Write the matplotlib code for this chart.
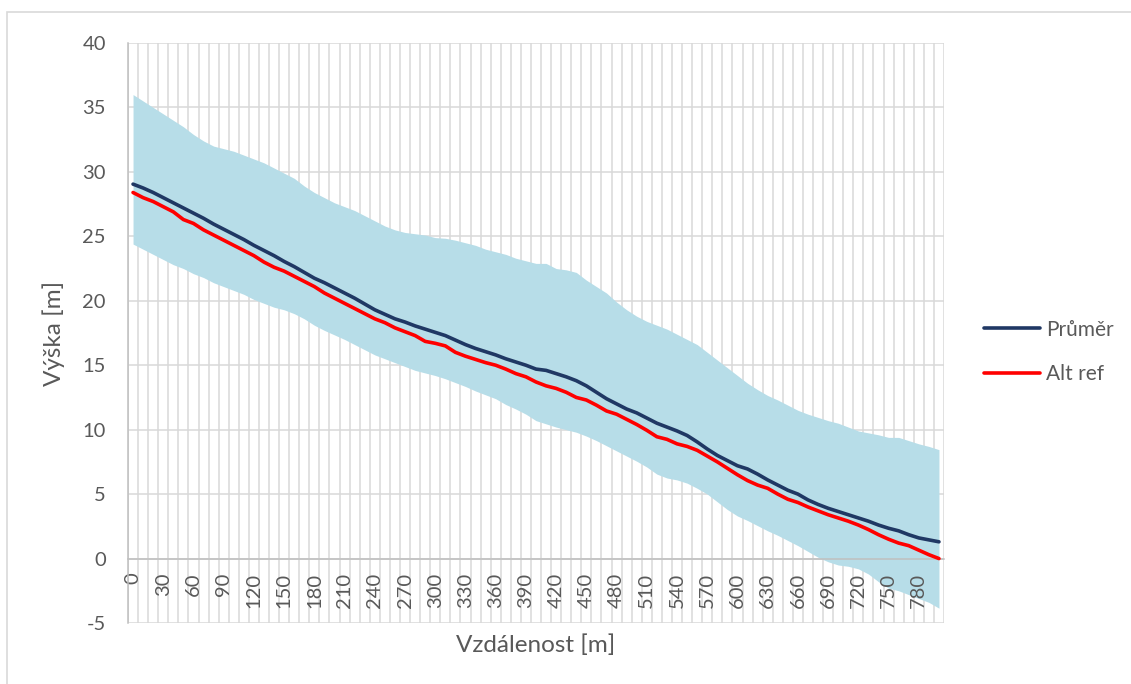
import numpy as np
import matplotlib
matplotlib.use("Agg")
import matplotlib.pyplot as plt
from matplotlib.patches import Rectangle

plt.rcParams['font.family'] = ['Lato', 'DejaVu Sans']
plt.rcParams['axes.unicode_minus'] = False

# distance categories [m]
distance = list(range(0, 801, 10))

upper = [36.0, 35.5, 35.0, 34.5, 34.0, 33.5, 32.9, 32.4, 32.0, 31.8,
         31.6, 31.3, 31.0, 30.7, 30.3, 29.9, 29.5, 28.9, 28.4, 28.0, 27.6,
         27.3, 27.0, 26.6, 26.2, 25.8, 25.5, 25.3, 25.2, 25.1, 24.9,
         24.85, 24.7, 24.5, 24.3, 24.0, 23.8, 23.6, 23.3, 23.1, 22.9,
         22.9, 22.5, 22.4, 22.2, 21.6, 21.1, 20.6, 19.9, 19.3, 18.8,
         18.4, 18.1, 17.8, 17.4, 17.0, 16.6, 16.0, 15.4, 14.8, 14.2,
         13.6, 13.1, 12.65, 12.3, 11.9, 11.5, 11.2, 10.95, 10.7, 10.5,
         10.2, 9.9, 9.75, 9.6, 9.4, 9.4, 9.15, 8.9, 8.7, 8.45]

lower = [24.4, 24.0, 23.6, 23.2, 22.8, 22.5, 22.1, 21.8, 21.4, 21.1,
         20.8, 20.5, 20.1, 19.8, 19.5, 19.3, 19.0, 18.6, 18.1, 17.7, 17.35,
         17.0, 16.6, 16.2, 15.8, 15.5, 15.2, 14.9, 14.6, 14.4, 14.2,
         13.95, 13.65, 13.35, 13.0, 12.7, 12.4, 11.95, 11.6, 11.2, 10.7,
         10.45, 10.2, 10.0, 9.8, 9.5, 9.15, 8.75, 8.35, 7.95, 7.55,
         7.1, 6.55, 6.25, 6.1, 5.85, 5.45, 5.0, 4.4, 3.8, 3.3,
         2.95, 2.55, 2.15, 1.8, 1.4, 1.0, 0.55, 0.1, -0.25, -0.5,
         -0.6, -0.8, -1.2, -1.8, -2.3, -2.5, -2.8, -3.1, -3.4, -3.85]

prumer = [29.05, 28.75, 28.4, 28.0, 27.6, 27.2, 26.8, 26.4, 25.95, 25.55,
          25.15, 24.75, 24.3, 23.9, 23.5, 23.05, 22.65, 22.2, 21.75, 21.4, 21.0,
          20.6, 20.2, 19.75, 19.3, 18.95, 18.6, 18.35, 18.05, 17.8, 17.55,
          17.3, 16.95, 16.6, 16.3, 16.05, 15.8, 15.5, 15.25, 15.0, 14.7,
          14.6, 14.35, 14.1, 13.8, 13.4, 12.9, 12.4, 12.0, 11.6, 11.3,
          10.9, 10.5, 10.2, 9.9, 9.55, 9.05, 8.5, 8.0, 7.6, 7.2,
          6.95, 6.55, 6.1, 5.7, 5.3, 5.0, 4.55, 4.2, 3.9, 3.65,
          3.4, 3.15, 2.9, 2.6, 2.35, 2.15, 1.85, 1.6, 1.45, 1.3]

alt_ref = [28.4, 28.0, 27.7, 27.3, 26.9, 26.3, 26.0, 25.5, 25.1, 24.7,
           24.3, 23.9, 23.5, 23.0, 22.6, 22.3, 21.9, 21.5, 21.1, 20.6, 20.2,
           19.8, 19.4, 19.0, 18.6, 18.3, 17.9, 17.6, 17.3, 16.85, 16.7,
           16.5, 16.0, 15.7, 15.45, 15.2, 15.0, 14.7, 14.35, 14.1, 13.7,
           13.4, 13.2, 12.9, 12.5, 12.3, 11.9, 11.45, 11.2, 10.8, 10.4,
           9.95, 9.45, 9.25, 8.9, 8.7, 8.4, 7.95, 7.5, 7.0, 6.5,
           6.05, 5.7, 5.45, 5.0, 4.6, 4.35, 4.0, 3.7, 3.4, 3.15,
           2.9, 2.6, 2.25, 1.85, 1.5, 1.2, 1.0, 0.65, 0.3, 0.0]

text_col = '#595959'
grid_col = '#D9D9D9'

fig = plt.figure(figsize=(11.31, 6.84), dpi=100)
ax = fig.add_axes([128/1131, 1 - 623/684, 816/1131, 580/684])

# outer chart border
fig.patches.append(Rectangle((7/1131, -0.1), 2, 1 - 12/684 + 0.1, transform=fig.transFigure,
                             fill=False, edgecolor=grid_col, linewidth=1.2))

pos = np.arange(len(distance))
n = len(distance)

# axis at y=0 first (moving the spine resets the ticks)
for s in ['top', 'right']:
    ax.spines[s].set_visible(False)
ax.spines['bottom'].set_position(('data', 0))
ax.spines['left'].set_color('#BFBFBF')
ax.spines['left'].set_linewidth(1.1)
ax.spines['bottom'].set_color('#BFBFBF')
ax.spines['bottom'].set_linewidth(1.1)
ax.spines['bottom'].set_zorder(2.6)
ax.patch.set_visible(False)

# gridlines under the band
ax.hlines(np.arange(-5, 41, 5), -0.5, n - 0.5, colors=grid_col, linewidth=1.1, zorder=0.5)
ax.vlines(np.arange(n + 1) - 0.5, -5, 40, colors=grid_col, linewidth=1.1, zorder=0.5)

ax.fill_between(pos, lower, upper, color='#B7DDE8', linewidth=0, zorder=1)
ax.plot(pos, prumer, color='#203864', linewidth=2.6, label='Průměr', zorder=3,
        solid_capstyle='round')
ax.plot(pos, alt_ref, color='#FF0000', linewidth=2.6, label='Alt ref', zorder=3,
        solid_capstyle='round')

ax.set_xlim(-0.5, n - 0.5)
ax.set_ylim(-5, 40)

ax.set_yticks(np.arange(-5, 41, 5))
ax.set_xticks(pos[::3])
ax.set_xticklabels([str(d) for d in distance[::3]])

ax.tick_params(axis='both', length=0, labelsize=14.5, labelcolor=text_col)
ax.tick_params(axis='y', pad=16)
ax.tick_params(axis='x', pad=10, labelrotation=90)

fig.text(536/1131, 1 - 645/684, 'Vzdálenost [m]', ha='center', va='center',
         fontsize=17.5, color=text_col)
fig.text(54/1131, 1 - 333/684, 'Výška [m]', ha='center', va='center', rotation=90,
         fontsize=17.5, color=text_col)

leg = fig.legend(loc='center left', bbox_to_anchor=(984/1131, 1 - 352/684), frameon=False,
                 fontsize=15, handlelength=2.7, handletextpad=0.3, labelspacing=1.2,
                 borderpad=0, borderaxespad=0)
for t in leg.get_texts():
    t.set_color(text_col)

fig.savefig('out.png', dpi=100)
